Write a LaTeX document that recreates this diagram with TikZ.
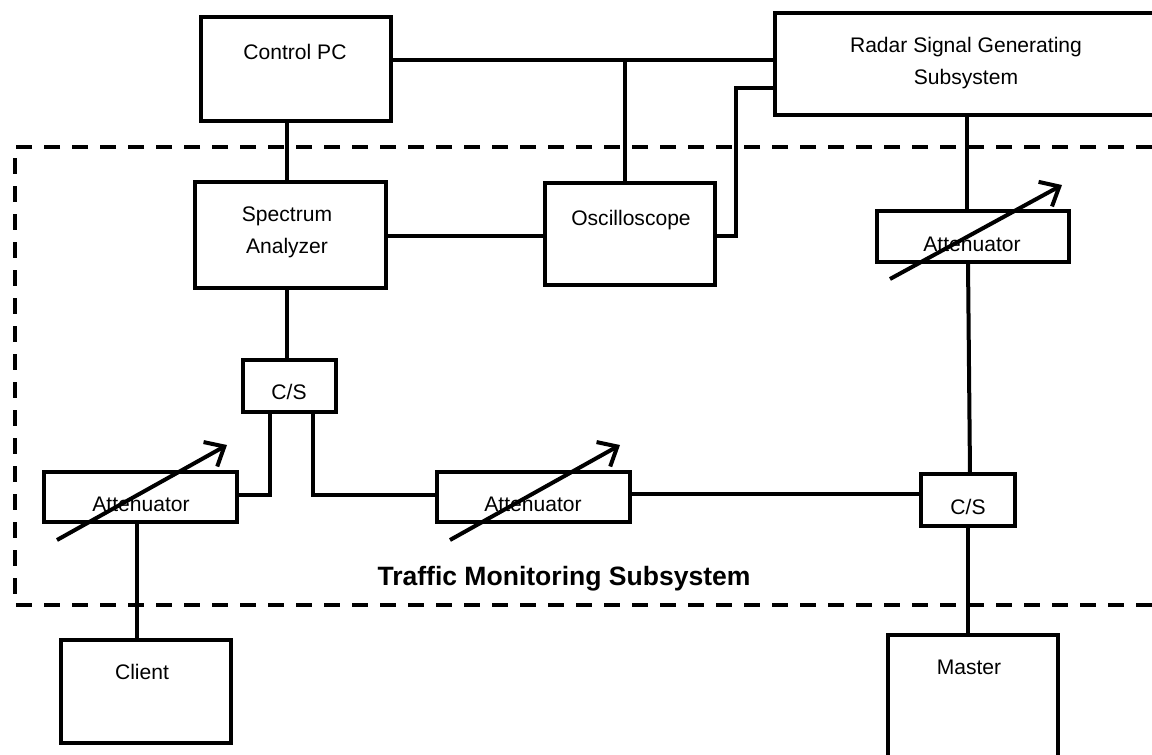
\documentclass[tikz,border=0pt]{standalone}
\usepackage{fontspec}
\setmainfont{Liberation Sans}
\usetikzlibrary{arrows.meta}
\newcommand{\px}{0.75pt}
\tikzset{x=0.75pt,y=-0.75pt,
 box/.style={draw,line width=3pt,inner sep=0pt,outer sep=0pt,anchor=north west},
 wire/.style={line width=3pt},
 var/.style={line width=3pt,-{Straight Barb[length=12pt,width=21pt,line width=3pt]}},
 lbl/.style={inner sep=0pt,font=\fontsize{15.8pt}{24pt}\selectfont,align=center}}
\newcommand{\bx}[7]{\node[box,minimum width=#4*\px,minimum height=#5*\px] (#1) at (#2,#3) {};\node[lbl] (#1t) at (#6) {#7};}
\begin{document}
\begin{tikzpicture}
\useasboundingbox (0,0) rectangle (1152,754);
\draw[line width=3pt,dash pattern=on 12pt off 9pt] (1152,147) -- (15,147) -- (15,605) -- (1152,605);
\bx{pc}{201}{17}{190}{104}{295,52}{Control PC}
\bx{radar}{775}{13}{395}{102}{966,63}{Radar Signal Generating\\Subsystem}
\bx{sa}{195}{182}{191}{106}{287,232}{Spectrum\\Analyzer}
\bx{osc}{545}{183}{170}{102}{631,220}{Oscilloscope}
\bx{att3}{877}{211}{192}{51}{972,244}{Attenuator}
\bx{cs1}{243}{360}{93}{52}{289,392}{C/S}
\bx{att1}{44}{472}{193}{50}{141,504}{Attenuator}
\bx{att2}{437}{472}{193}{50}{533,504}{Attenuator}
\bx{cs2}{921}{474}{94}{52}{968,507}{C/S}
\bx{client}{61}{640}{170}{103}{142,672}{Client}
\bx{master}{888}{635}{170}{122}{969,667}{Master}
\node[lbl,font=\bfseries\fontsize{19.9pt}{20pt}\selectfont] (tm) at (564,579) {Traffic Monitoring Subsystem};
\coordinate (a) at (625,60);
\coordinate (b) at (736,236);
\coordinate (c) at (736,88);
\draw[wire] (pc.east|-a) -- (radar.west|-a);
\draw[wire] (a) -- (a|-osc.north);
\draw[wire] (osc.east|-b) -- (b) -- (c) -- (radar.west|-c);
\draw[wire] (sa.east|-b) -- (osc.west|-b);
\draw[wire] (287,121) -- (287,182);
\draw[wire] (287,288) -- (287,360);
\draw[wire] (967,115) -- (967,211);
\draw[wire] (968,262) -- (970,474);
\draw[wire] (270,412) -- (270,495) -- (237,495);
\draw[wire] (313,412) -- (313,495) -- (437,495);
\draw[wire] (630,494) -- (921,494);
\draw[wire] (137,522) -- (137,640);
\draw[wire] (968,526) -- (968,635);
\draw[var] (57,540) -- (227,445);
\draw[var] (450,540) -- (620,445);
\draw[var] (890,279) -- (1062,185);
\end{tikzpicture}
\end{document}
